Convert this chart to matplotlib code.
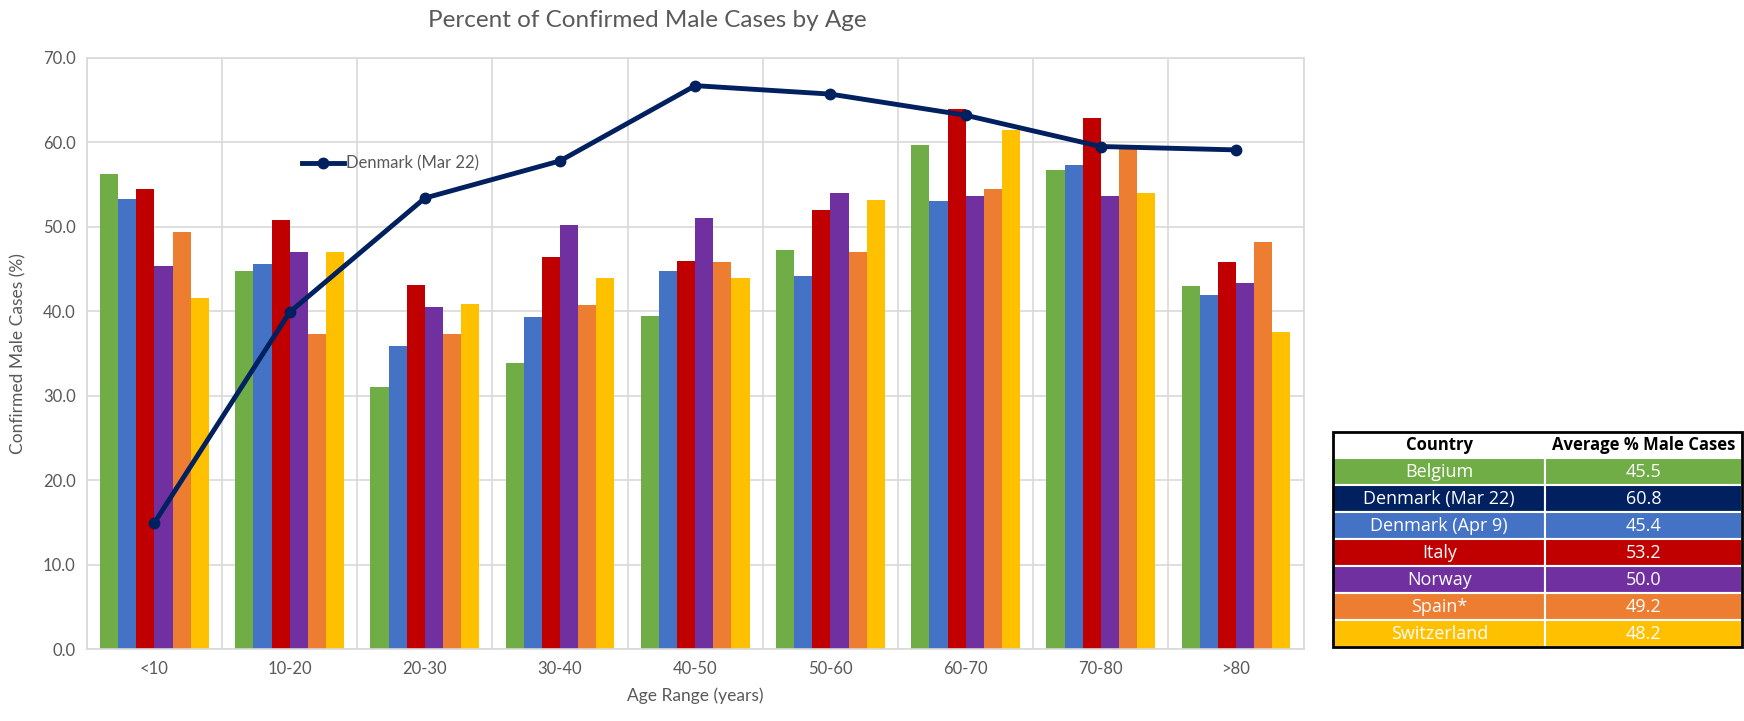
import numpy as np
import matplotlib.pyplot as plt
from matplotlib.patches import Rectangle

plt.rcParams['font.family'] = ['Lato', 'DejaVu Sans']

# Дані
AGE_RANGES = ["<10", "10-20", "20-30", "30-40", "40-50", "50-60", "60-70", "70-80", ">80"]

BELGIUM = [56.3, 44.8, 31.1, 33.9, 39.5, 47.2, 59.7, 56.7, 43.0]
DENMARK_APR9 = [53.3, 45.6, 35.9, 39.3, 44.8, 44.2, 53.1, 57.3, 41.9]
ITALY = [54.5, 50.8, 43.1, 46.4, 46.0, 52.0, 63.9, 62.9, 45.8]
NORWAY = [45.4, 47.0, 40.5, 50.2, 51.0, 54.0, 53.7, 53.7, 43.4]
SPAIN = [49.4, 37.3, 37.3, 40.7, 45.8, 47.0, 54.5, 59.2, 48.2]
SWITZERLAND = [41.6, 47.0, 40.9, 44.0, 44.0, 53.2, 61.5, 54.0, 37.6]
DENMARK_MAR22 = [15.0, 39.9, 53.4, 57.8, 66.7, 65.7, 63.2, 59.5, 59.1]

TABLE_COUNTRIES = ["Belgium", "Denmark (Mar 22)", "Denmark (Apr 9)", "Italy",
                   "Norway", "Spain*", "Switzerland"]
TABLE_AVERAGES = ["45.5", "60.8", "45.4", "53.2", "50.0", "49.2", "48.2"]

# Кольори
GREEN = "#70AD47"
BLUE = "#4472C4"
RED = "#C00000"
PURPLE = "#7030A0"
ORANGE = "#ED7D31"
YELLOW = "#FFC000"
NAVY = "#002060"
GRAY_TEXT = "#595959"
GRID = "#D9D9D9"

bar_series = [BELGIUM, DENMARK_APR9, ITALY, NORWAY, SPAIN, SWITZERLAND]
bar_colors = [GREEN, BLUE, RED, PURPLE, ORANGE, YELLOW]
table_colors = [GREEN, NAVY, BLUE, RED, PURPLE, ORANGE, YELLOW]

# ----------------------------------- Графік ------------------------------------
fig = plt.figure(figsize=(17.44, 7.21), dpi=100)
ax = fig.add_axes([0.0498, 0.0992, 0.6977, 0.8207])

x = np.arange(len(AGE_RANGES))
width = 0.134
for i, (vals, col) in enumerate(zip(bar_series, bar_colors)):
    ax.bar(x + (i - 2.5) * width, vals, width, color=col, zorder=2)

ax.plot(x, DENMARK_MAR22, color=NAVY, lw=3.5, marker="o", ms=7.5,
        label="Denmark (Mar 22)", zorder=3)

ax.set_xlim(-0.5, len(AGE_RANGES) - 0.5)
ax.set_ylim(0, 70)
ax.set_yticks(np.arange(0, 71, 10))
ax.set_yticklabels([f"{v:.1f}" for v in np.arange(0, 71, 10)])
ax.set_xticks(x)
ax.set_xticklabels(AGE_RANGES)
ax.set_xticks(np.arange(-0.5, len(AGE_RANGES), 1), minor=True)
ax.grid(axis="y", color=GRID, lw=1.2, zorder=0)
ax.grid(axis="x", which="minor", color=GRID, lw=1.2, zorder=0)
ax.tick_params(axis="both", which="both", length=0, labelsize=12,
               labelcolor=GRAY_TEXT, pad=8)
for s in ax.spines.values():
    s.set_color(GRID)
    s.set_linewidth(1.2)

ax.set_xlabel("Age Range (years)", fontsize=12.5, color=GRAY_TEXT, labelpad=8)
ax.set_ylabel("Confirmed Male Cases (%)", fontsize=12.5, color=GRAY_TEXT, labelpad=12)
fig.text(0.371, 0.972, "Percent of Confirmed Male Cases by Age",
         fontsize=17.5, color=GRAY_TEXT, ha="center", va="center")

leg = ax.legend(loc="center left", bbox_to_anchor=(0.177, 0.821), frameon=False,
                fontsize=12, handlelength=2.5, handletextpad=0.1,
                borderpad=0, borderaxespad=0)
for t in leg.get_texts():
    t.set_color(GRAY_TEXT)

# ----------------------------------- Таблиця ------------------------------------
tax = fig.add_axes([0.7646, 0.1026, 0.2342, 0.2989])
tax.axis("off")
cells = [["Country", "Average % Male Cases"]] + \
        [[c, a] for c, a in zip(TABLE_COUNTRIES, TABLE_AVERAGES)]
colours = [["white", "white"]] + [[c, c] for c in table_colors]
tbl = tax.table(cellText=cells, cellColours=colours, cellLoc="center",
                colWidths=[0.518, 0.482], bbox=[0, 0, 1, 1])
tbl.auto_set_font_size(False)
for (r, c), cell in tbl.get_celld().items():
    cell.set_edgecolor("white")
    cell.set_linewidth(1.5)
    txt = cell.get_text()
    txt.set_family(["Open Sans", "DejaVu Sans"])
    if r == 0:
        txt.set_fontsize(12)
        txt.set_fontweight("bold")
        txt.set_color("black")
    else:
        txt.set_fontsize(13)
        txt.set_color("white")
tax.add_patch(Rectangle((0, 0), 1, 1, transform=tax.transAxes, fill=False,
                        edgecolor="black", lw=2, zorder=5, clip_on=False))

fig.savefig("out.png", dpi=100)
